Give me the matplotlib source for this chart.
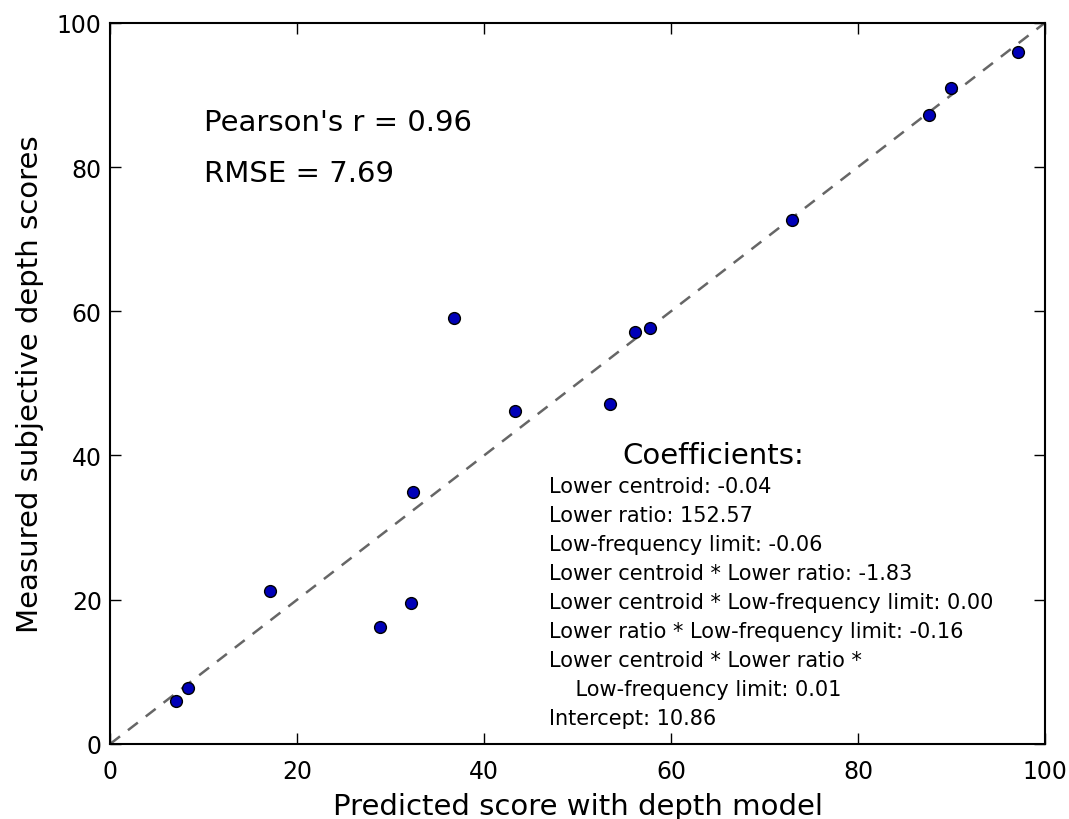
import matplotlib
matplotlib.use('Agg')
from matplotlib import pyplot as plt

# predicted vs measured depth scores
predicted = [7.1, 8.3, 17.1, 28.9, 32.2, 32.4, 36.8, 43.3, 53.5, 56.1, 57.7,
             72.9, 87.6, 89.9, 97.1]
measured = [5.9, 7.8, 21.2, 16.2, 19.6, 35.0, 59.0, 46.2, 47.1, 57.1, 57.7,
            72.7, 87.2, 91.0, 96.0]

pearson_r = 0.96
rmse = 7.69

coef_names = ['Lower centroid', 'Lower ratio', 'Low-frequency limit',
              'Lower centroid * Lower ratio',
              'Lower centroid * Low-frequency limit',
              'Lower ratio * Low-frequency limit',
              'Lower centroid * Lower ratio *\n    Low-frequency limit',
              'Intercept']
coef_values = [-0.04, 152.57, -0.06, -1.83, 0.00, -0.16, 0.01, 10.86]

plt.rcParams['font.family'] = 'DejaVu Sans'

fig = plt.figure(figsize=(10.69, 8.2), dpi=100)
ax = fig.add_axes([0.103, 0.0915, 0.8745, 0.8795])

# identity line
ax.plot([0, 100], [0, 100], linestyle='--', color='#666666', lw=1.8,
        dashes=(5, 4), zorder=1)
ax.plot(predicted, measured, 'o', ms=8.5, mfc='#0000b8', mec='black',
        mew=1.0, zorder=2)

ax.set_xlim(0, 100)
ax.set_ylim(0, 100)
ax.set_xticks([0, 20, 40, 60, 80, 100])
ax.set_yticks([0, 20, 40, 60, 80, 100])
ax.tick_params(direction='in', length=8, width=1, labelsize=17,
               top=True, right=True, pad=6)
ax.tick_params(axis='x', pad=11)
for s in ax.spines.values():
    s.set_linewidth(1.5)

ax.set_xlabel('Predicted score with depth model', fontsize=21, labelpad=6)
ax.set_ylabel('Measured subjective depth scores', fontsize=21, labelpad=9)

ax.text(10, 85.1, "Pearson's r = %.2f" % pearson_r, fontsize=21,
        va='baseline')
ax.text(10, 78.0, 'RMSE = %.2f' % rmse, fontsize=21, va='baseline')

ax.text(64.5, 38.9, 'Coefficients:', fontsize=21, ha='center', va='baseline')
y = 34.9
for name, val in zip(coef_names, coef_values):
    lines = ('%s: %.2f' % (name, val)).split('\n')
    for ln in lines:
        ax.text(46.9, y, ln, fontsize=15, va='baseline')
        y -= 4.02

fig.savefig('out.png', dpi=100)
